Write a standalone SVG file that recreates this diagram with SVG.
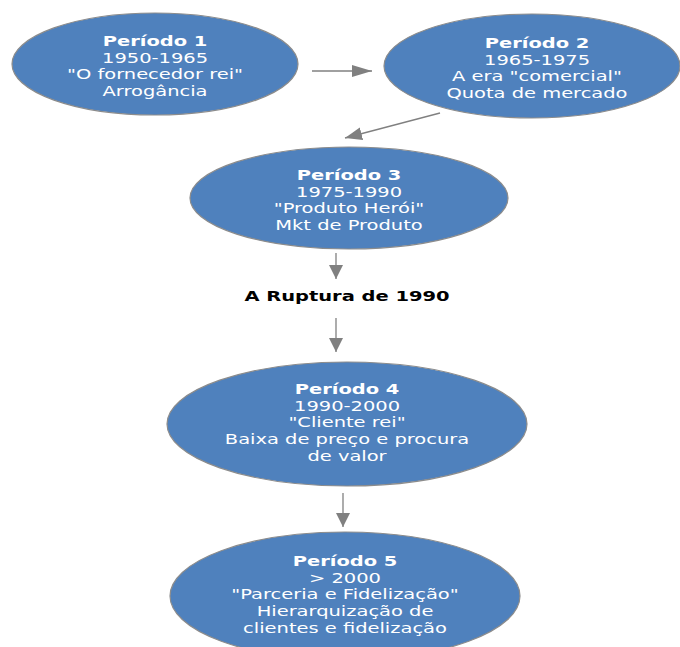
<svg xmlns="http://www.w3.org/2000/svg" width="680" height="647" viewBox="0 0 680 647">
  <style>
    .node { fill: #4f81bd; stroke: #8c8c8c; stroke-width: 1.2; }
    .lbl { font-family: "DejaVu Sans", Verdana, sans-serif; font-size: 14px; fill: #ffffff; text-anchor: middle; }
    .lbl .t { font-weight: bold; }
    .edge { stroke: #808080; stroke-width: 1.3; fill: none; }
    .note { font-family: "DejaVu Sans", Verdana, sans-serif; font-size: 14px; font-weight: bold; fill: #000000; text-anchor: middle; }
  </style>
  <defs>
    <marker id="arrow" viewBox="0 0 14 14" refX="14" refY="7" markerWidth="14" markerHeight="14" markerUnits="userSpaceOnUse" orient="auto">
      <path d="M0,0 L14,7 L0,14 z" fill="#808080"/>
    </marker>
    <marker id="arrowWide" viewBox="0 0 20 12" refX="20" refY="6" markerWidth="20" markerHeight="12" markerUnits="userSpaceOnUse" orient="auto">
      <path d="M0,0 L20,6 L0,12 z" fill="#808080"/>
    </marker>
    <marker id="arrowMid" viewBox="0 0 17 13" refX="17" refY="6.5" markerWidth="17" markerHeight="13" markerUnits="userSpaceOnUse" orient="auto">
      <path d="M0,0 L17,6.5 L0,13 z" fill="#808080"/>
    </marker>
  </defs>

  <g id="connectors">
    <line class="edge" x1="312" y1="71" x2="372" y2="71" marker-end="url(#arrowWide)"/>
    <line class="edge" x1="440" y1="113" x2="345" y2="138" marker-end="url(#arrowMid)"/>
    <line class="edge" x1="336" y1="253" x2="336" y2="279" marker-end="url(#arrow)"/>
    <line class="edge" x1="336" y1="318" x2="336" y2="352" marker-end="url(#arrow)"/>
    <line class="edge" x1="343" y1="493" x2="343" y2="527" marker-end="url(#arrow)"/>
  </g>

  <!-- labels use a wide face: the text is stretched horizontally -->
  <g id="periodo1">
    <ellipse class="node" cx="155" cy="64" rx="143" ry="51"/>
    <text class="lbl" transform="matrix(1.39 0 0 1 155 0)"><tspan class="t" x="0" y="46">Período 1</tspan><tspan x="0" y="62.7">1950-1965</tspan><tspan x="0" y="79.4">"O fornecedor rei"</tspan><tspan x="0" y="96.1">Arrogância</tspan></text>
  </g>

  <g id="periodo2">
    <ellipse class="node" cx="532" cy="66" rx="148" ry="52"/>
    <text class="lbl" transform="matrix(1.39 0 0 1 537 0)"><tspan class="t" x="0" y="48">Período 2</tspan><tspan x="0" y="64.7">1965-1975</tspan><tspan x="0" y="81.4">A era "comercial"</tspan><tspan x="0" y="98.1">Quota de mercado</tspan></text>
  </g>

  <g id="periodo3">
    <ellipse class="node" cx="349" cy="198" rx="159" ry="51"/>
    <text class="lbl" transform="matrix(1.39 0 0 1 349 0)"><tspan class="t" x="0" y="180">Período 3</tspan><tspan x="0" y="196.7">1975-1990</tspan><tspan x="0" y="213.4">"Produto Herói"</tspan><tspan x="0" y="230.1">Mkt de Produto</tspan></text>
  </g>

  <g id="ruptura">
    <text class="note" transform="matrix(1.39 0 0 1 347 0)" x="0" y="301">A Ruptura de 1990</text>
  </g>

  <g id="periodo4">
    <ellipse class="node" cx="347" cy="424" rx="180" ry="62"/>
    <text class="lbl" transform="matrix(1.39 0 0 1 347 0)"><tspan class="t" x="0" y="394">Período 4</tspan><tspan x="0" y="410.7">1990-2000</tspan><tspan x="0" y="427.4">"Cliente rei"</tspan><tspan x="0" y="444.1">Baixa de preço e procura</tspan><tspan x="0" y="460.8">de valor</tspan></text>
  </g>

  <g id="periodo5">
    <ellipse class="node" cx="345" cy="596" rx="175" ry="64"/>
    <text class="lbl" transform="matrix(1.39 0 0 1 345 0)"><tspan class="t" x="0" y="566">Período 5</tspan><tspan x="0" y="582.7">&gt; 2000</tspan><tspan x="0" y="599.4">"Parceria e Fidelização"</tspan><tspan x="0" y="616.1">Hierarquização de</tspan><tspan x="0" y="632.8">clientes e fidelização</tspan></text>
  </g>
</svg>
